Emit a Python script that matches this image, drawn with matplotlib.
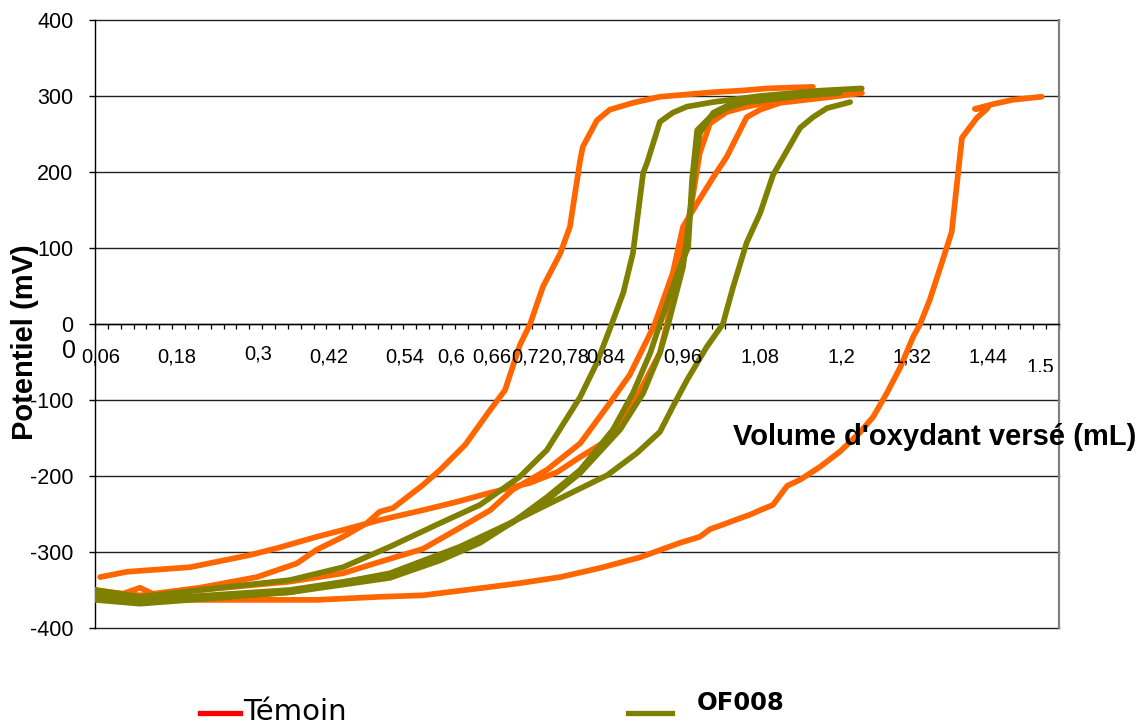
import matplotlib
matplotlib.use('Agg')
import matplotlib.pyplot as plt
import numpy as np
from matplotlib.lines import Line2D
from matplotlib.transforms import Bbox

plt.rcParams['font.family'] = ['Liberation Sans', 'DejaVu Sans']

# titration curves: volume (mL) vs potential (mV)
temoin_1_x = [0.0, 0.04, 0.07, 0.09, 0.163, 0.252, 0.314, 0.345, 0.386, 0.423, 0.443, 0.464, 0.51, 0.537,
              0.576, 0.615, 0.638, 0.661, 0.677, 0.697, 0.724, 0.739, 0.755, 0.759, 0.781, 0.801, 0.837,
              0.879, 0.962, 1.004, 1.046, 1.117]
temoin_1_y = [-352, -356, -347, -355, -347, -333, -315, -297, -280, -262, -247, -242, -212, -192,
              -159, -113, -87, -28, 0, 49, 93, 128, 216, 233, 268, 282, 291,
              299, 305, 307, 310, 312]

temoin_2_x = [0.008, 0.05, 0.148, 0.241, 0.283, 0.345, 0.386, 0.443, 0.51, 0.563, 0.615, 0.677, 0.719,
              0.755, 0.797, 0.817, 0.843, 0.879, 0.89, 0.915, 0.93, 0.941, 0.957, 0.983, 1.014, 1.066,
              1.148, 1.193]
temoin_2_y = [-333, -326, -320, -304, -295, -280, -271, -258, -245, -234, -222, -209, -195,
              -175, -153, -126, -96, -38, 0, 101, 167, 225, 264, 279, 286, 295,
              301, 304]

temoin_3_x = [0.0, 0.07, 0.163, 0.303, 0.386, 0.443, 0.51, 0.568, 0.615, 0.65, 0.703, 0.755, 0.801,
              0.832, 0.859, 0.871, 0.899, 0.915, 0.937, 0.962, 0.983, 1.014, 1.035, 1.066, 1.148, 1.193]
temoin_3_y = [-352, -357, -350, -339, -328, -313, -296, -268, -245, -218, -192, -157, -104,
              -67, -21, 0, 67, 128, 159, 193, 220, 272, 282, 291, 299, 304]

temoin_4_x = [0.0, 0.07, 0.148, 0.303, 0.345, 0.443, 0.51, 0.615, 0.661, 0.724, 0.786, 0.848, 0.91,
              0.941, 0.957, 0.977, 0.999, 1.019, 1.035, 1.055, 1.077, 1.097, 1.128, 1.159, 1.19, 1.211,
              1.232, 1.253, 1.273, 1.284, 1.299, 1.319, 1.333, 1.349, 1.372, 1.389, 1.369, 1.396,
              1.428, 1.473]
temoin_4_y = [-350, -358, -363, -363, -363, -359, -357, -346, -341, -333, -321, -307, -288,
              -280, -270, -264, -257, -251, -245, -238, -213, -205, -188, -168, -143, -122,
              -91, -57, -17, 0, 32, 84, 121, 245, 271, 284, 283, 289,
              295, 299]

of008_1_x = [0.0, 0.07, 0.163, 0.303, 0.386, 0.459, 0.537, 0.599, 0.661, 0.703, 0.755, 0.781, 0.804,
             0.822, 0.837, 0.853, 0.859, 0.879, 0.899, 0.921, 0.962, 1.035, 1.128, 1.193]
of008_1_y = [-350, -359, -350, -337, -320, -293, -262, -238, -201, -166, -96, -51, 0,
             41, 93, 199, 212, 266, 278, 286, 292, 300, 307, 310]

of008_2_x = [0.0, 0.07, 0.303, 0.459, 0.537, 0.599, 0.65, 0.703, 0.755, 0.806, 0.837, 0.864, 0.879,
             0.91, 0.923, 0.929, 0.937, 0.957, 0.983, 1.014, 1.097, 1.159]
of008_2_y = [-357, -363, -350, -330, -305, -284, -261, -228, -192, -139, -91, -38, 0,
             75, 101, 189, 255, 272, 284, 292, 300, 304]

of008_3_x = [0.0, 0.07, 0.303, 0.459, 0.537, 0.599, 0.703, 0.755, 0.817, 0.853, 0.879, 0.892, 0.915,
             0.926, 0.934, 0.941, 0.962, 0.993, 1.066, 1.144]
of008_3_y = [-361, -366, -353, -334, -311, -288, -232, -196, -139, -91, -38, 0, 75,
             146, 212, 251, 278, 291, 299, 304]

of008_4_x = [0.0, 0.07, 0.148, 0.303, 0.459, 0.568, 0.641, 0.703, 0.797, 0.843, 0.879, 0.899, 0.921,
             0.952, 0.977, 0.993, 1.014, 1.035, 1.055, 1.097, 1.117, 1.139, 1.175]
of008_4_y = [-363, -368, -363, -353, -328, -293, -264, -238, -199, -170, -142, -109, -74,
             -30, 0, 49, 107, 146, 196, 258, 272, 284, 292]

# hand-placed volume labels along the zero line
xlabel_values = [0, 0.06, 0.18, 0.3, 0.42, 0.54, 0.6, 0.66, 0.72, 0.78, 0.84, 0.96, 1.08, 1.2, 1.32, 1.44, 1.5]
xlabel_dx = [-26, -33, -34, -30, -36, -37, -29, -27, -27, -27, -29, -29, -29, -25, -31, -32, -19]
xlabel_dy = [-27, -33, -33, -30, -33, -33, -33, -33, -33, -33, -33, -33, -33, -33, -33, -33, -43]

yticks = [-400, -300, -200, -100, 0, 100, 200, 300, 400]

orange = '#FF6600'
olive = '#808000'

fig = plt.figure(figsize=(11.44, 7.25), dpi=100)
W, H = 1144, 725
ax = fig.add_axes([95 / W, 1 - 628 / H, (1059 - 95) / W, (628 - 20) / H])
ax.set_xlim(0, 1.5)
ax.set_ylim(-400, 400)

for y in yticks:
    ax.axhline(y, color='#222222', lw=1.0, zorder=0, clip_on=False)

style = dict(lw=4.1, solid_joinstyle='round', solid_capstyle='round', zorder=3)
ax.plot(temoin_4_x, temoin_4_y, color=orange, **style)
ax.plot(temoin_1_x, temoin_1_y, color=orange, **style)
ax.plot(temoin_2_x, temoin_2_y, color=orange, **style)
ax.plot(temoin_3_x, temoin_3_y, color=orange, **style)
ax.plot(of008_1_x, of008_1_y, color=olive, **style)
ax.plot(of008_4_x, of008_4_y, color=olive, **style)
ax.plot(of008_2_x, of008_2_y, color=olive, **style)
ax.plot(of008_3_x, of008_3_y, color=olive, **style)

# axes frame
ax.spines['top'].set_visible(False)
ax.spines['bottom'].set_position(('data', 0))
ax.spines['bottom'].set_linewidth(1.0)
ax.spines['left'].set_linewidth(1.0)
ax.spines['right'].set_color('#808080')
ax.spines['right'].set_linewidth(1.6)

ax.set_yticks(yticks)
ax.set_yticklabels([str(v) for v in yticks])
ax.tick_params(axis='y', direction='out', length=4.5, width=1, labelsize=15.5, pad=11)

ax.set_xticks(np.arange(0, 1.5001, 0.02))
ax.set_xticklabels([])
ax.tick_params(axis='x', direction='out', length=3.5, width=0.9)

clip = Bbox.from_extents(0, H - 372, W, H)
for v, dx, dy in zip(xlabel_values, xlabel_dx, xlabel_dy):
    txt = '0' if v == 0 else ('%g' % v).replace('.', ',')
    t = ax.annotate(txt, xy=(v, 0), xytext=(dx, dy), textcoords='offset pixels',
                    ha='center', va='center', fontsize=18 if v == 0 else 14.5,
                    annotation_clip=False)
    t.set_clip_box(clip)
    t.set_clip_on(True)

fig.text(25 / W, 1 - 342 / H, 'Potentiel (mV)', rotation=90, fontsize=21, fontweight='bold',
         ha='center', va='center')
fig.text(733 / W, 1 - 437 / H, "Volume d'oxydant versé (mL)", fontsize=21, fontweight='bold',
         ha='left', va='center')

# legend
fig.add_artist(Line2D([200 / W, 240 / W], [1 - 713 / H] * 2, color='red', lw=3.8,
                      transform=fig.transFigure))
fig.text(243 / W, 1 - 712 / H, 'Témoin', fontsize=21, family='DejaVu Sans', ha='left', va='center')
fig.add_artist(Line2D([628 / W, 672 / W], [1 - 713 / H] * 2, color=olive, lw=3.8,
                      transform=fig.transFigure))
fig.text(697 / W, 1 - 703 / H, 'OF008', fontsize=17.5, family='DejaVu Sans', fontweight='bold',
         ha='left', va='center')

fig.savefig('out.png', dpi=100)
